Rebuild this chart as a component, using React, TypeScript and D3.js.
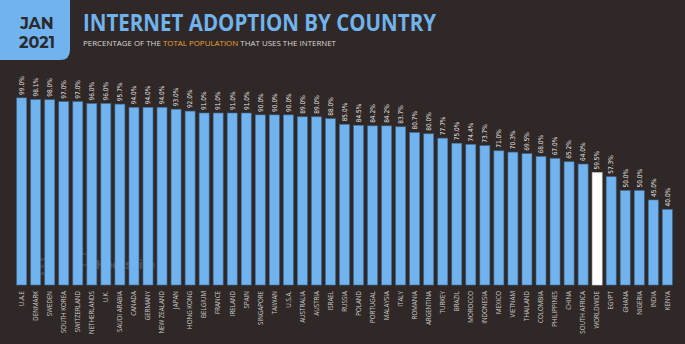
import React from "react";
import * as d3 from "d3";

const countries = [
  "U.A.E", "DENMARK", "SWEDEN", "SOUTH KOREA", "SWITZERLAND", "NETHERLANDS", "U.K.", "SAUDI ARABIA",
  "CANADA", "GERMANY", "NEW ZEALAND", "JAPAN", "HONG KONG", "BELGIUM", "FRANCE", "IRELAND", "SPAIN",
  "SINGAPORE", "TAIWAN", "U.S.A.", "AUSTRALIA", "AUSTRIA", "ISRAEL", "RUSSIA", "POLAND", "PORTUGAL",
  "MALAYSIA", "ITALY", "ROMANIA", "ARGENTINA", "TURKEY", "BRAZIL", "MOROCCO", "INDONESIA", "MEXICO",
  "VIETNAM", "THAILAND", "COLOMBIA", "PHILIPPINES", "CHINA", "SOUTH AFRICA", "WORLDWIDE", "EGYPT",
  "GHANA", "NIGERIA", "INDIA", "KENYA",
];
const values = [
  99.0, 98.1, 98.0, 97.0, 97.0, 96.0, 96.0, 95.7, 94.0, 94.0, 94.0, 93.0, 92.0, 91.0, 91.0, 91.0, 91.0,
  90.0, 90.0, 90.0, 89.0, 89.0, 88.0, 85.0, 84.5, 84.2, 84.2, 83.7, 80.7, 80.0, 77.7, 75.0, 74.4, 73.7,
  71.0, 70.3, 69.5, 68.0, 67.0, 65.2, 64.0, 59.5, 57.3, 50.0, 50.0, 45.0, 40.0,
];
const highlight = "WORLDWIDE";

const W = 685;
const H = 344;
const BG = "#302826";
const BLUE = "#70b3ee";

export default function App() {
  const x = d3.scaleBand<string>().domain(countries).range([15, 674]).paddingInner(0.29).paddingOuter(0.12);
  const y = d3.scaleLinear().domain([0, 100]).range([285, 96]);
  const bw = x.bandwidth();

  return (
    <svg width={W} height={H} style={{ display: "block", position: "absolute", left: 0, top: 0 }}>
      <rect x={0} y={0} width={W} height={H} fill={BG} />
      {/* header tab */}
      <path d="M0,0 H70 V50 Q70,60 60,60 H0 Z" fill={BLUE} />
      <text x={37} y={29} textAnchor="middle" fontFamily="Montserrat, 'Open Sans', sans-serif" fontWeight={700} fontSize={16} fill="#2a2a2e">JAN</text>
      <text x={37} y={48} textAnchor="middle" fontFamily="Montserrat, 'Open Sans', sans-serif" fontWeight={700} fontSize={16} fill="#2a2a2e">2021</text>
      <text x={83} y={31} fontFamily="'Open Sans', sans-serif" fontWeight={700} fontSize={23} fill={BLUE} textLength={353} lengthAdjust="spacingAndGlyphs">INTERNET ADOPTION BY COUNTRY</text>
      <text x={83} y={46} fontFamily="'Open Sans', sans-serif" fontSize={7.5} fill="#d8d8d8" textLength={253} lengthAdjust="spacingAndGlyphs">
        PERCENTAGE OF THE <tspan fill="#e8a23a">TOTAL POPULATION</tspan> THAT USES THE INTERNET
      </text>
      {/* watermark */}
      <g opacity={0.18} fill="#ffffff" fontFamily="'Open Sans', sans-serif" fontWeight={700}>
        <text x={38} y={261} fontSize={6}>we</text>
        <text x={38} y={268} fontSize={6}>are</text>
        <text x={38} y={275} fontSize={6}>social</text>
        <rect x={79} y={254} width={9} height={11} fill="none" stroke="#ffffff" strokeWidth={1} />
        <text x={96} y={269} fontSize={12}>Hootsuite</text>
      </g>
      {/* bars */}
      {countries.map((c, i) => {
        const v = values[i];
        const bx = x(c)!;
        const by = y(v);
        const isH = c === highlight;
        return (
          <g key={c}>
            <rect x={bx} y={by} width={bw} height={y(0) - by} fill={isH ? "#ffffff" : BLUE} stroke={isH ? "#d0d0d0" : "#3f6f9e"} strokeWidth={0.6} />
            <text
              transform={`translate(${bx + bw / 2 + 2.3},${by - 3}) rotate(-90)`}
              fontFamily="'Liberation Sans Narrow', 'DejaVu Sans Condensed', sans-serif"
              fontSize={6.5}
              fill="#e6e6e6"
            >
              {v.toFixed(1) + "%"}
            </text>
            <text
              transform={`translate(${bx + bw / 2 + 2.3},${291}) rotate(-90)`}
              textAnchor="end"
              fontFamily="'Open Sans', sans-serif"
              fontSize={6.2}
              fill="#c9c9c9"
            >
              {c}
            </text>
          </g>
        );
      })}
    </svg>
  );
}
